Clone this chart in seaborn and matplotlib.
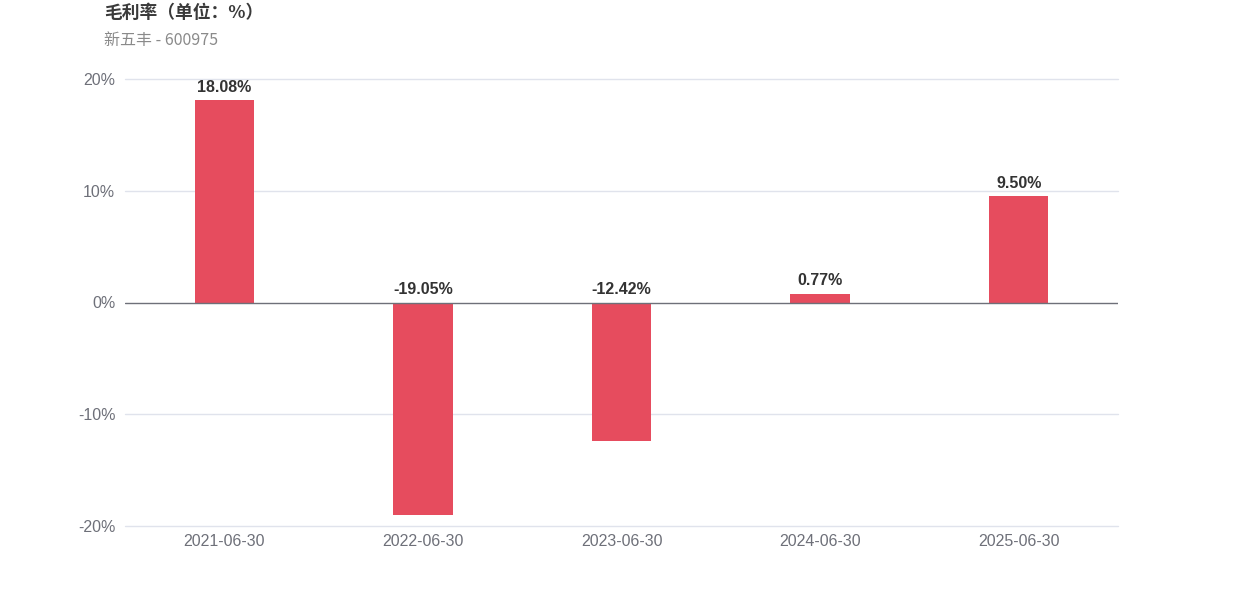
import matplotlib
matplotlib.use('Agg')
import matplotlib.pyplot as plt
import seaborn as sns
import pandas as pd

dates = ['2021-06-30', '2022-06-30', '2023-06-30', '2024-06-30', '2025-06-30']
gross_margin = [18.08, -19.05, -12.42, 0.77, 9.50]
y_ticks = [-20, -10, 0, 10, 20]

title = '毛利率（单位：%）'
subtitle = '新五丰 - 600975'

sns.set_style('white')
plt.rcParams['font.family'] = ['Liberation Sans', 'Noto Sans CJK SC', 'DejaVu Sans']

df = pd.DataFrame({'date': dates, 'value': gross_margin})

fig = plt.figure(figsize=(12.42, 5.96), dpi=100)
ax = fig.add_axes([125 / 1242, 1 - 526 / 596, (1118 - 125) / 1242, (526 - 79) / 596])

sns.barplot(data=df, x='date', y='value', color='#E64C5E', width=0.3,
            saturation=1, linewidth=0, ax=ax, zorder=3)

ax.set_ylim(-20, 20)
ax.set_xlim(-0.5, len(dates) - 0.5)
ax.set_yticks(y_ticks)
ax.set_yticklabels([f'{t}%' for t in y_ticks])
ax.set_xlabel('')
ax.set_ylabel('')

for t in y_ticks:
    if t != 0:
        ax.axhline(t, color='#E0E3EC', linewidth=1, zorder=1, clip_on=False)
ax.axhline(0, color='#6E7079', linewidth=1, zorder=4)

for s in ax.spines.values():
    s.set_visible(False)
ax.tick_params(axis='y', length=0, pad=7, labelsize=11.5, labelcolor='#6E7079')
ax.tick_params(axis='x', length=0, pad=6, labelsize=11.5, labelcolor='#6E7079')

# Подписи значений над столбцами
for i, v in enumerate(gross_margin):
    base = max(v, 0)
    ax.annotate(f'{v:.2f}%', xy=(i, base), xytext=(0, 4), textcoords='offset points',
                ha='center', va='bottom', fontsize=11.5, fontweight='bold',
                color='#333333', zorder=5)

fig.text(104 / 1242, 1 - 13 / 596, title, fontsize=12.8, fontweight='bold',
         color='#3A3A3A', va='center', ha='left',
         family=['Noto Sans CJK SC', 'DejaVu Sans'])
fig.text(104 / 1242, 1 - 40 / 596, subtitle, fontsize=11.5,
         color='#8A8A8A', va='center', ha='left',
         family=['Noto Sans CJK SC', 'DejaVu Sans'])

fig.savefig('out.png', dpi=100)
